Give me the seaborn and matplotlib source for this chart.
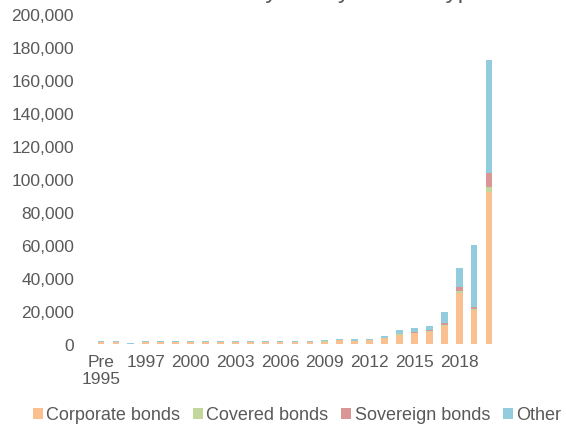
import pandas as pd
import matplotlib
matplotlib.use("Agg")
import matplotlib.pyplot as plt
import matplotlib.ticker as mticker
from matplotlib.patches import Patch
import seaborn as sns

# data
years = ["Pre\n1995"] + [str(y) for y in range(1995, 2021)]
corporate = [1000, 1000, 100, 1000, 1000, 1000, 1000, 1000, 1000, 1000, 1000, 1000, 1000, 1000, 1100,
             1500, 2200, 1700, 2300, 3400, 5700, 6500, 7500, 11100, 31000, 20800, 92000]
covered = [0, 0, 0, 0, 0, 0, 0, 0, 0, 0, 0, 0, 0, 0, 0,
           50, 100, 300, 100, 150, 200, 200, 200, 700, 1200, 300, 3200]
sovereign = [0, 0, 0, 0, 0, 0, 0, 0, 0, 0, 0, 0, 0, 0, 0,
             50, 100, 100, 100, 150, 400, 500, 600, 900, 2300, 1500, 8600]
other = [900, 900, 450, 900, 900, 900, 900, 900, 900, 900, 900, 900, 900, 900, 800,
         800, 800, 1100, 700, 1000, 2400, 2500, 2800, 6500, 11400, 37600, 68500]

series = ["Corporate bonds", "Covered bonds", "Sovereign bonds", "Other"]
colors = ["#FAC090", "#C3D69B", "#D99694", "#93CDDD"]
grey = "#595959"

df = pd.DataFrame({"year": years, "Corporate bonds": corporate, "Covered bonds": covered,
                   "Sovereign bonds": sovereign, "Other": other})
cum = df[series].cumsum(axis=1)
cum["year"] = df["year"]

sns.set_style("white")
plt.rcParams["font.family"] = ["Liberation Sans", "DejaVu Sans"]

fig = plt.figure(figsize=(5.66, 4.27), dpi=100)
ax = fig.add_axes([93.5 / 566, 1 - 345 / 427, 403 / 566, 330 / 427])

# stacked bars drawn as overlapping cumulative totals, top series first
for name, col in reversed(list(zip(series, colors))):
    sns.barplot(data=cum, x="year", y=name, order=years, color=col, width=0.45,
                saturation=1, ax=ax, linewidth=0)

ax.set_xlim(-0.5, len(years) - 0.5)
ax.set_ylim(0, 200000)
ax.yaxis.set_major_locator(mticker.MultipleLocator(20000))
ax.yaxis.set_major_formatter(mticker.FuncFormatter(lambda v, p: f"{int(v):,}"))
ax.set_xticks(range(0, len(years), 3))
ax.set_xticklabels([years[i] for i in range(0, len(years), 3)])
ax.tick_params(axis="both", length=0, labelsize=12.5, labelcolor=grey)
ax.tick_params(axis="y", pad=14)
ax.tick_params(axis="x", pad=7)
ax.set_xlabel("")
ax.set_ylabel("")
sns.despine(ax=ax, left=True, bottom=True)

fig.text(242 / 566, 1 + 2 / 427, "Number of instruments by start year and type",
         ha="center", va="baseline", fontsize=17.5, color=grey)

handles = [Patch(facecolor=c, edgecolor="none", label=s) for s, c in zip(series, colors)]
leg = fig.legend(handles=handles, loc="center", bbox_to_anchor=(297 / 566, 1 - 416 / 427),
                 ncol=4, frameon=False, fontsize=13, handlelength=0.55, handleheight=0.55,
                 handletextpad=0.2, columnspacing=0.7, borderpad=0, borderaxespad=0)
for t in leg.get_texts():
    t.set_color(grey)

fig.savefig("out.png", dpi=100)
